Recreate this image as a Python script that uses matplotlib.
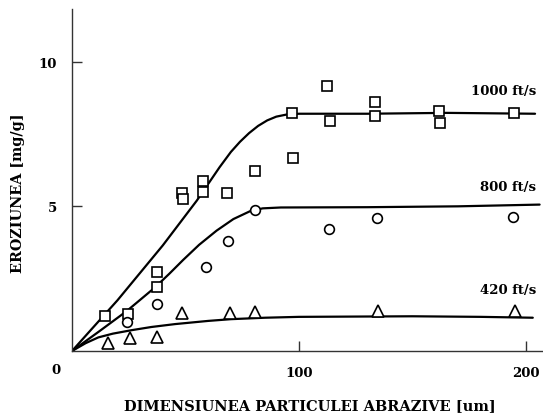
import matplotlib
matplotlib.use("Agg")
import matplotlib.pyplot as plt
import numpy as np

# ---- data ----
# 1000 ft/s (squares)
sq_x = [14.5, 24.5, 37.3, 37.3, 48.4, 48.8, 57.6, 57.8, 68.4, 80.6, 97.2, 96.8,
        112.5, 113.7, 133.5, 133.5, 161.8, 162.1, 194.7]
sq_y = [1.22, 1.28, 2.74, 2.20, 5.45, 5.25, 5.86, 5.48, 5.45, 6.21, 6.66, 8.23,
        9.15, 7.94, 8.60, 8.11, 8.28, 7.88, 8.23]
# 800 ft/s (circles)
ci_x = [24.4, 37.3, 58.9, 68.6, 80.6, 113.4, 134.2, 194.1]
ci_y = [0.99, 1.62, 2.89, 3.81, 4.88, 4.22, 4.59, 4.62]
# 420 ft/s (triangles)
tr_x = [15.7, 25.6, 37.3, 48.6, 69.6, 80.6, 134.7, 195.2]
tr_y = [0.28, 0.44, 0.47, 1.31, 1.31, 1.34, 1.39, 1.39]

# fitted curves
c1000_x = [0, 20, 40, 55, 65, 70, 74, 78, 82, 86, 90, 95, 100, 130, 165, 204]
c1000_y = [0, 1.75, 3.65, 5.2, 6.35, 6.88, 7.23, 7.53, 7.78, 7.97, 8.1, 8.18, 8.2, 8.2, 8.23, 8.2]
c800_x = [0, 12, 24.1, 36.6, 43, 49, 56, 63.7, 71.1, 78.4, 84, 92, 130, 170, 206]
c800_y = [0, 0.68, 1.38, 2.2, 2.68, 3.15, 3.67, 4.16, 4.56, 4.83, 4.93, 4.96, 4.97, 5.0, 5.06]
c420_x = [0, 6, 11.6, 18, 26.3, 35, 45.4, 60, 70, 85, 100, 150, 180, 203]
c420_y = [0, 0.27, 0.47, 0.6, 0.72, 0.83, 0.93, 1.04, 1.1, 1.15, 1.18, 1.2, 1.18, 1.15]

curve_labels = ["1000 ft/s", "800 ft/s", "420 ft/s"]
label_pos = [(204.5, 9.0), (204.5, 5.67), (204.5, 2.14)]

x_ticks = [100, 200]
y_ticks = [5, 10]
x_label = "DIMENSIUNEA PARTICULEI ABRAZIVE [um]"
y_label = "EROZIUNEA [mg/g]"

W, H = 543, 414
fig = plt.figure(figsize=(W / 100, H / 100), dpi=100)
ax = fig.add_axes([72 / W, 62 / H, (W - 72) / W, (352 - 10) / H])
ax.set_xlim(0, 207.5)
ax.set_ylim(0, 11.82)

font = dict(family="DejaVu Serif", fontweight="bold")

for cx, cy in [(c1000_x, c1000_y), (c800_x, c800_y), (c420_x, c420_y)]:
    ax.plot(cx, cy, color="black", lw=1.6, zorder=2, solid_capstyle="round",
            solid_joinstyle="round")

mk = dict(linestyle="none", mfc="white", mec="black", mew=1.2, zorder=3, clip_on=False)
ax.plot(sq_x, sq_y, marker="s", ms=7, **mk)
ax.plot(ci_x, ci_y, marker="o", ms=7, **mk)
ax.plot(tr_x, tr_y, marker="^", ms=8, **mk)

for lab, (lx, ly) in zip(curve_labels, label_pos):
    ax.text(lx, ly, lab, ha="right", va="center", fontsize=9.5, **font)

for s in ["top", "right"]:
    ax.spines[s].set_visible(False)
for s in ["left", "bottom"]:
    ax.spines[s].set_linewidth(1.0)
    ax.spines[s].set_color("#333333")

ax.set_xticks(x_ticks)
ax.set_yticks(y_ticks)
ax.tick_params(direction="in", length=7, width=1.0, color="#333333", pad=11, labelsize=9.5)
for t in ax.get_xticklabels() + ax.get_yticklabels():
    t.set_fontfamily("DejaVu Serif")
    t.set_fontweight("bold")

fig.text(56 / W, 1 - 371 / H, "0", ha="center", va="center", fontsize=9.5, **font)
fig.text(310 / W, 1 - 406 / H, x_label, ha="center", va="center", fontsize=10.5, **font)
fig.text(18 / W, 1 - 193 / H, y_label, ha="center", va="center", rotation=90, fontsize=10.4, **font)

fig.savefig("out.png", dpi=100)
